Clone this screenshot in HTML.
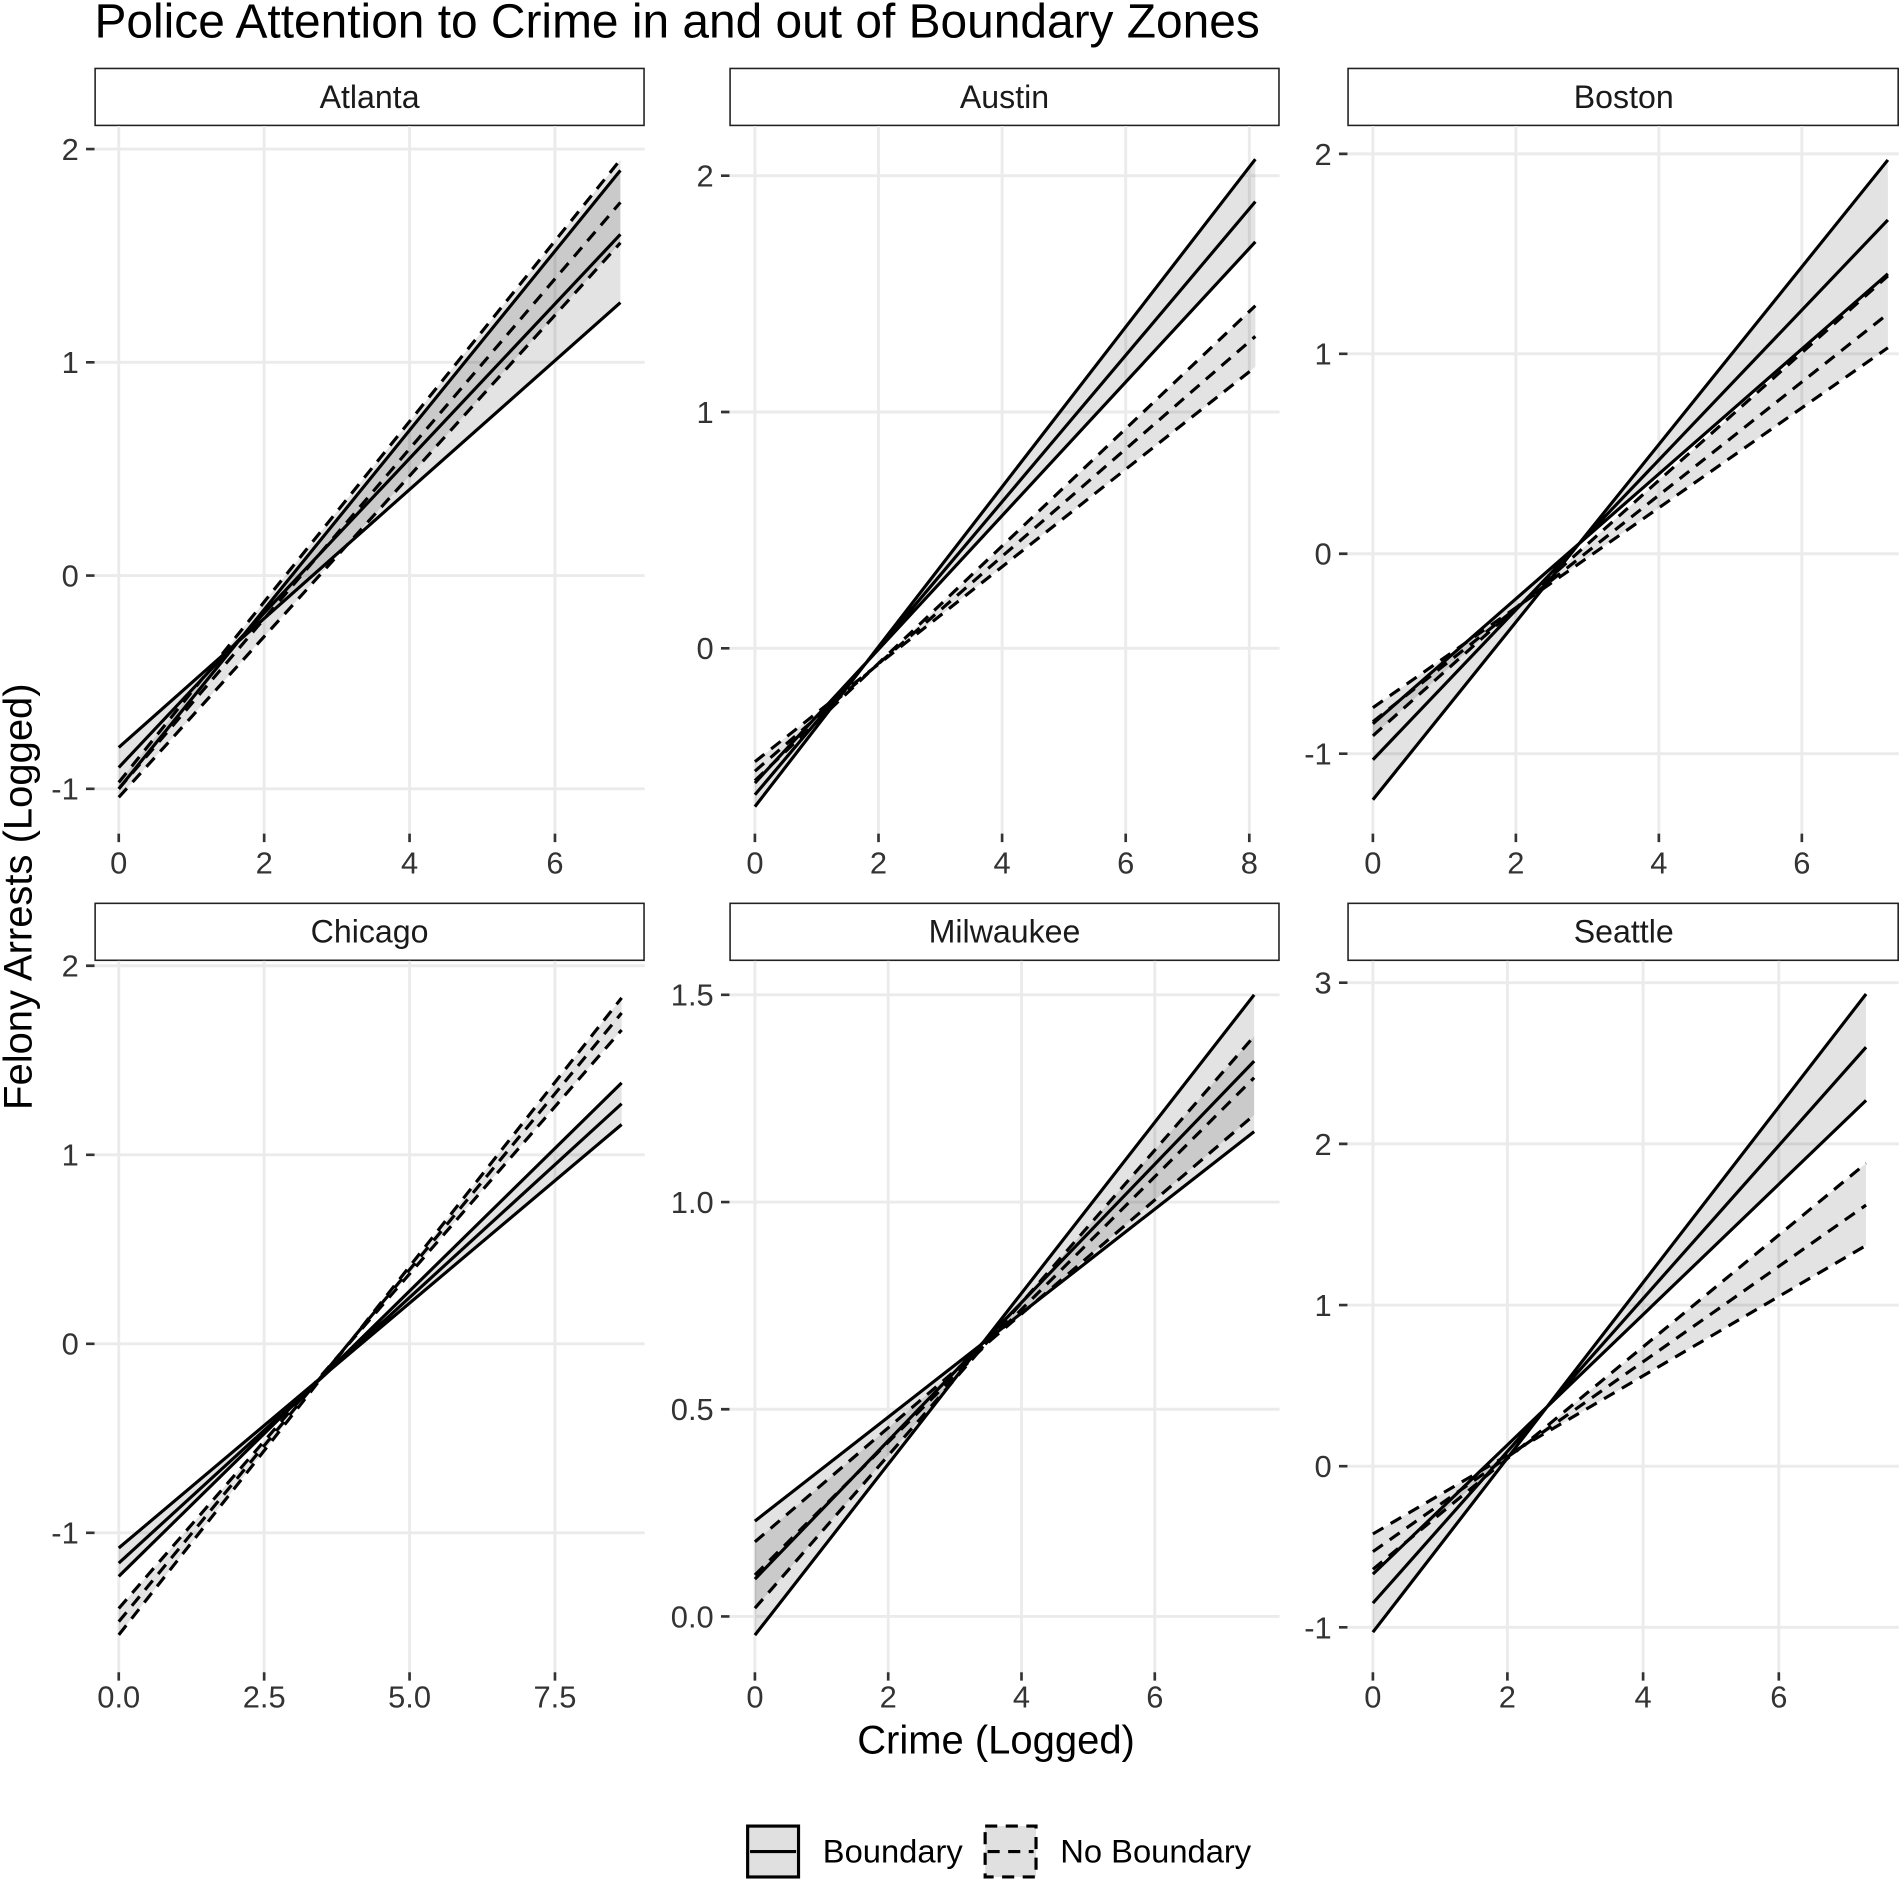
<!DOCTYPE html>
<html><head><meta charset="utf-8"><style>html,body{margin:0;padding:0;background:#fff}svg{display:block}</style></head><body>
<svg width="1900" height="1880" viewBox="0 0 1568 1551.5" xmlns="http://www.w3.org/2000/svg" font-family="Liberation Sans, sans-serif">
<rect width="1568" height="1552" fill="#fff"/>
<text x="78" y="31" font-size="39.5" fill="#000">Police Attention to Crime in and out of Boundary Zones</text>
<g fill="#fff" stroke="#222" stroke-width="1.3">
<rect x="78.5" y="56.5" width="453" height="47"/><rect x="602.5" y="56.5" width="453" height="47"/><rect x="1112.5" y="56.5" width="454" height="47"/>
<rect x="78.5" y="745.5" width="453" height="47"/><rect x="602.5" y="745.5" width="453" height="47"/><rect x="1112.5" y="745.5" width="454" height="47"/>
</g>
<g font-size="26.5" text-anchor="middle" fill="#1a1a1a">
<text x="305" y="89">Atlanta</text><text x="829" y="89">Austin</text><text x="1340" y="89">Boston</text>
<text x="305" y="778">Chicago</text><text x="829" y="778">Milwaukee</text><text x="1340" y="778">Seattle</text>
</g>
<g stroke="#ebebeb" stroke-width="2.4">
<path d="M78 123H532M78 299H532M78 475H532M78 651H532M98 104V688M218 104V688M338 104V688M458 104V688"/>
<path d="M602 145H1056M602 340H1056M602 535H1056M623 104V688M725 104V688M827 104V688M929 104V688M1031 104V688"/>
<path d="M1112 127H1567M1112 292H1567M1112 457H1567M1112 622H1567M1133 104V688M1251 104V688M1369 104V688M1487 104V688"/>
<path d="M78 797H532M78 953H532M78 1109H532M78 1265H532M98 793V1380M218 793V1380M338 793V1380M458 793V1380"/>
<path d="M602 821H1056M602 992H1056M602 1163H1056M602 1334H1056M623 793V1380M733 793V1380M843 793V1380M953 793V1380"/>
<path d="M1112 811H1567M1112 944H1567M1112 1077H1567M1112 1210H1567M1112 1343H1567M1133 793V1380M1244 793V1380M1356 793V1380M1468 793V1380"/>
</g>
<g stroke="#333" stroke-width="2.2">
<path d="M71 123H78M71 299H78M71 475H78M71 651H78M98 688V695M218 688V695M338 688V695M458 688V695"/>
<path d="M595 145H602M595 340H602M595 535H602M623 688V695M725 688V695M827 688V695M929 688V695M1031 688V695"/>
<path d="M1105 127H1112M1105 292H1112M1105 457H1112M1105 622H1112M1133 688V695M1251 688V695M1369 688V695M1487 688V695"/>
<path d="M71 797H78M71 953H78M71 1109H78M71 1265H78M98 1380V1387M218 1380V1387M338 1380V1387M458 1380V1387"/>
<path d="M595 821H602M595 992H602M595 1163H602M595 1334H602M623 1380V1387M733 1380V1387M843 1380V1387M953 1380V1387"/>
<path d="M1105 811H1112M1105 944H1112M1105 1077H1112M1105 1210H1112M1105 1343H1112M1133 1380V1387M1244 1380V1387M1356 1380V1387M1468 1380V1387"/>
</g>
<g font-size="25.5" fill="#333" text-anchor="end">
<text x="65" y="132">2</text><text x="65" y="308">1</text><text x="65" y="484">0</text><text x="65" y="660">-1</text>
<text x="589" y="154">2</text><text x="589" y="349">1</text><text x="589" y="544">0</text>
<text x="1099" y="136">2</text><text x="1099" y="301">1</text><text x="1099" y="466">0</text><text x="1099" y="631">-1</text>
<text x="65" y="806">2</text><text x="65" y="962">1</text><text x="65" y="1118">0</text><text x="65" y="1274">-1</text>
<text x="589" y="830">1.5</text><text x="589" y="1001">1.0</text><text x="589" y="1172">0.5</text><text x="589" y="1343">0.0</text>
<text x="1099" y="820">3</text><text x="1099" y="953">2</text><text x="1099" y="1086">1</text><text x="1099" y="1219">0</text><text x="1099" y="1352">-1</text>
</g>
<g font-size="25.5" fill="#333" text-anchor="middle">
<text x="98" y="721">0</text><text x="218" y="721">2</text><text x="338" y="721">4</text><text x="458" y="721">6</text>
<text x="623" y="721">0</text><text x="725" y="721">2</text><text x="827" y="721">4</text><text x="929" y="721">6</text><text x="1031" y="721">8</text>
<text x="1133" y="721">0</text><text x="1251" y="721">2</text><text x="1369" y="721">4</text><text x="1487" y="721">6</text>
<text x="98" y="1409">0.0</text><text x="218" y="1409">2.5</text><text x="338" y="1409">5.0</text><text x="458" y="1409">7.5</text>
<text x="623" y="1409">0</text><text x="733" y="1409">2</text><text x="843" y="1409">4</text><text x="953" y="1409">6</text>
<text x="1133" y="1409">0</text><text x="1244" y="1409">2</text><text x="1356" y="1409">4</text><text x="1468" y="1409">6</text>
</g>
<g fill="#000" fill-opacity="0.11">
<polygon points="98,616.8 512,249.7 512,140.6 98,651"/><polygon points="98,645.7 512,131.8 512,200.4 98,658"/>
<polygon points="623,646.2 1036,199.6 1036,131.4 623,665.7"/><polygon points="623,644.2 1036,252.3 1036,302.9 623,628.6"/>
<polygon points="1133,597.3 1558,226 1558,132 1133,660"/><polygon points="1133,607.2 1558,227.7 1558,287 1133,584"/>
<polygon points="98,1277.5 513,928 513,893.7 98,1300.9"/><polygon points="98,1349.2 513,823.5 513,850 98,1327.4"/>
<polygon points="623,1255.3 1035,933.9 1035,821 623,1349.4"/><polygon points="623,1327.2 1035,855.2 1035,920.2 623,1272.4"/>
<polygon points="1133,1299.1 1540,908.1 1540,820.3 1133,1347"/><polygon points="1133,1295.1 1540,960 1540,1027.8 1133,1265.9"/>
</g>
<g stroke="#000" stroke-width="2.6" fill="none">
<path d="M98 616.8L512 249.7M98 633.4L512 193.4M98 651L512 140.6"/>
<path d="M623 646.2L1036 199.6M623 655.9L1036 166.4M623 665.7L1036 131.4"/>
<path d="M1133 597.3L1558 226M1133 627L1558 181.5M1133 660L1558 132"/>
<path d="M98 1277.5L513 928M98 1290L513 910.9M98 1300.9L513 893.7"/>
<path d="M623 1255.3L1035 933.9M623 1303.2L1035 875.7M623 1349.4L1035 821"/>
<path d="M1133 1299.1L1540 908.1M1133 1323L1540 864.2M1133 1347L1540 820.3"/>
</g>
<g stroke="#000" stroke-width="2.6" fill="none" stroke-dasharray="10 7">
<path d="M98 645.7L512 131.8M98 651L512 167M98 658L512 200.4"/>
<path d="M623 644.2L1036 252.3M623 636.4L1036 277.6M623 628.6L1036 302.9"/>
<path d="M1133 607.2L1558 227.7M1133 595.6L1558 259M1133 584L1558 287"/>
<path d="M98 1349.2L513 823.5M98 1338.3L513 836M98 1327.4L513 850"/>
<path d="M623 1327.2L1035 855.2M623 1299.8L1035 889.4M623 1272.4L1035 920.2"/>
<path d="M1133 1295.1L1540 960M1133 1280.5L1540 994.5M1133 1265.9L1540 1027.8"/>
</g>
<text x="822" y="1447" font-size="33" text-anchor="middle" fill="#000">Crime (Logged)</text>
<text transform="translate(26,740) rotate(-90)" font-size="33" text-anchor="middle" fill="#000">Felony Arrests (Logged)</text>
<rect x="617" y="1507" width="42" height="42" fill="#e0e0e0" stroke="#000" stroke-width="2.6"/>
<path d="M619 1528H657" stroke="#000" stroke-width="2.6"/>
<text x="679" y="1537" font-size="27" fill="#000">Boundary</text>
<rect x="813" y="1507" width="42" height="42" fill="#e0e0e0" stroke="#000" stroke-width="2.6" stroke-dasharray="10 7"/>
<path d="M815 1528H853" stroke="#000" stroke-width="2.6" stroke-dasharray="10 7"/>
<text x="875" y="1537" font-size="27" fill="#000">No Boundary</text>
</svg>
</body></html>
